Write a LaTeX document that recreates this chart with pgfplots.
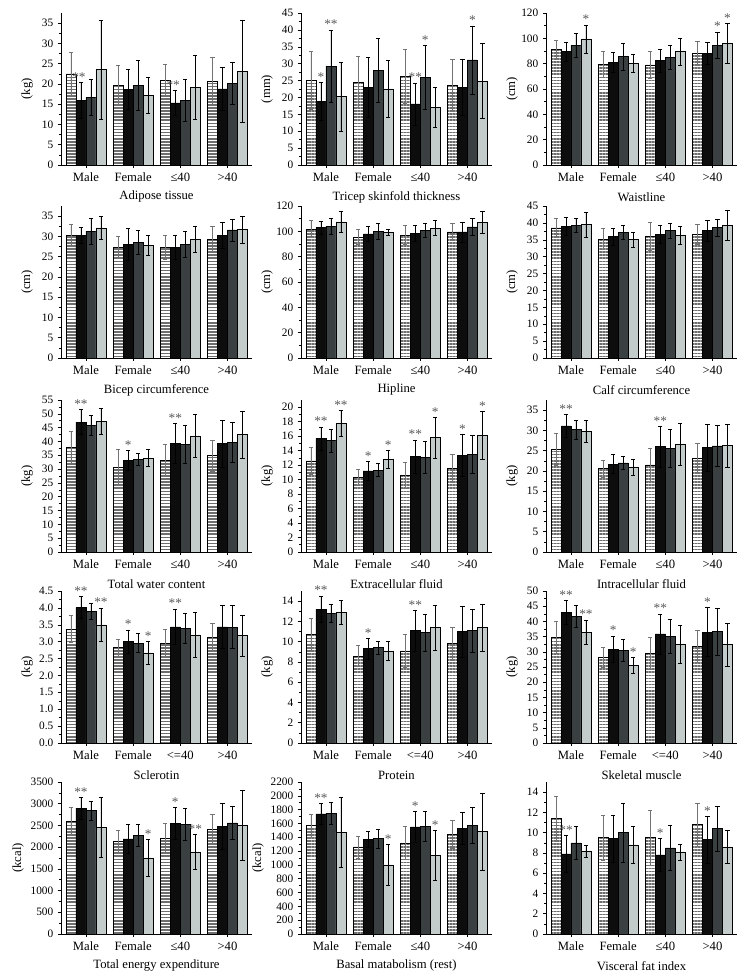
\documentclass[border=0pt]{standalone}
\usepackage{fontspec}
\setmainfont{Liberation Serif}
\usepackage{pgfplots}
\usepackage{pgfplotstable}
\pgfplotsset{compat=1.18}
\usetikzlibrary{patterns.meta}
\newlength\px \setlength\px{0.75pt}
\definecolor{cB}{HTML}{0D0D0D}
\definecolor{cD}{HTML}{3A3F41}
\definecolor{cL}{HTML}{C4CBCB}
\definecolor{cS}{HTML}{6E6E6E}

\pgfplotsset{
  panel/.style={
    scale only axis, width=191\px, height=152\px, anchor=south west,
    axis x line*=bottom, axis y line*=left,
    xmin=-0.53, xmax=3.52, ymin=0,
    xtick={0,1,2,3}, xticklabels={Male,Female,≤40,>40},
    tick align=outside, minor y tick num=1,
    major tick length=3\px, minor tick length=2\px,
    tick style={black, line width=0.4pt},
    axis line style={line width=0.5pt},
    clip=false,
    /pgf/number format/assume math mode=true,
    /pgf/number format/1000 sep={},
    y tick label style={font=\fontsize{8.5}{10}\selectfont},
    x tick label style={font=\fontsize{9.5}{11}\selectfont},
    label style={font=\fontsize{9.5}{11}\selectfont},
    xlabel style={at={(axis description cs:0.5,-0.21)}, anchor=center},
    ylabel style={at={(axis description cs:-0.178,0.5)}, anchor=center},
  },
  EB/.style={error bars/y dir=both, error bars/y explicit,
    error bars/error bar style={line width=0.4pt, #1},
    error bars/error mark options={rotate=90, mark size=1.6pt, line width=0.4pt, #1}},
  EB/.default=black,
  bS/.style={ybar, bar width=0.212, bar shift=0, draw=black, line width=0.4pt,
    pattern={Lines[angle=0, distance=2.3pt, line width=1.25pt]}, pattern color=cS, EB=black!55},
  bB/.style={ybar, bar width=0.212, bar shift=0, draw=black, line width=0.4pt, fill=cB, EB},
  bD/.style={ybar, bar width=0.212, bar shift=0, draw=black, line width=0.4pt, fill=cD, EB},
  bL/.style={ybar, bar width=0.212, bar shift=0, draw=black, line width=0.4pt, fill=cL, EB},
  ST/.style={draw=none, mark=none, nodes near coords,
    point meta=explicit symbolic,
    every node near coord/.style={text=black!65, anchor=south, inner sep=0.6pt,
      font=\fontsize{10}{11}\selectfont}},
}
\newcommand\bars[1]{%
  \addplot[bS] table[x expr=\thisrow{x}-0.318,y=S,y error=Se]{#1};
  \addplot[bB] table[x expr=\thisrow{x}-0.106,y=B,y error=Be]{#1};
  \addplot[bD] table[x expr=\thisrow{x}+0.106,y=D,y error=De]{#1};
  \addplot[bL] table[x expr=\thisrow{x}+0.318,y=L,y error=Le]{#1};
}
% stars: #1 = bar offset within group, #2 = rows "group top-of-error-bar stars"
\newcommand\stars[2]{%
  \addplot[ST] table[x expr=\thisrow{x}+#1, y=y, meta=s, row sep=\\]{x y s\\ #2};
}

\pgfplotstableread{
x S Se B Be D De L Le
0 22.5 5.2 16.0 4.4 16.7 4.5 23.5 12.3
1 19.7 4.8 18.7 4.9 19.7 6.1 17.2 4.4
2 21.0 3.9 15.3 3.1 16.0 5.2 19.2 7.9
3 20.7 6.0 18.8 5.2 20.2 5.2 23.1 12.6
}\tabA
\pgfplotstableread{
x S Se B Be D De L Le
0 25.0 8.6 18.8 5.7 29.3 10.7 20.2 10.3
1 24.6 7.5 23.0 8.9 28.0 9.4 22.5 8.5
2 26.3 8.1 18.1 6.2 26.0 9.4 17.1 5.9
3 23.6 7.6 23.0 8.4 31.1 10.1 24.8 11.1
}\tabB
\pgfplotstableread{
x S Se B Be D De L Le
0 91 7.5 89.5 7.5 94.5 9.5 99.5 11
1 79.5 10 81 8 85.5 10.5 80.5 7
2 79 10.5 82.5 9 85 9.5 89.5 10.5
3 88 9.5 88 8.5 94.5 10.5 96 15.5
}\tabC
\pgfplotstableread{
x S Se B Be D De L Le
0 30.3 2.7 30.3 2.0 31.3 3.2 32.1 2.8
1 27.3 2.8 28.0 4.0 28.5 3.0 27.8 2.5
2 27.3 2.9 27.3 3.0 28.0 3.2 29.3 3.3
3 29.4 3.0 30.2 3.2 31.6 2.7 31.7 3.3
}\tabD
\pgfplotstableread{
x S Se B Be D De L Le
0 102 7 103 5 104 6.5 107.5 8
1 95.5 6 98 6 100 6.5 99 2.5
2 97 7.5 98.5 6 100.5 5.5 102.5 6
3 99.5 6.5 99.5 8 103.5 6.5 107 8.5
}\tabE
\pgfplotstableread{
x S Se B Be D De L Le
0 38.5 2.8 39.0 2.6 39.2 2.1 39.5 3.7
1 35.2 3.1 35.9 2.4 37.2 2.1 35.1 2.2
2 36.0 4.2 36.6 2.7 37.7 2.3 36.3 2.7
3 36.6 3.0 37.7 3.0 38.6 2.5 39.3 4.4
}\tabF
\pgfplotstableread{
x S Se B Be D De L Le
0 38.0 5.8 47.0 4.5 45.8 3.5 47.3 4.6
1 30.7 6.5 33.1 3.6 33.5 2.2 34.0 3.0
2 33.2 5.7 39.3 7.2 39.0 6.8 42.0 7.7
3 34.9 5.7 39.3 8.5 39.7 7.1 42.5 8.6
}\tabG
\pgfplotstableread{
x S Se B Be D De L Le
0 12.6 1.9 15.7 1.6 15.4 1.6 17.8 1.8
1 10.3 1.1 11.2 1.3 11.3 0.9 12.8 1.2
2 10.6 1.8 13.2 2.3 13.1 2.2 15.8 2.8
3 11.6 1.9 13.3 2.9 13.5 2.6 16.1 3.3
}\tabH
\pgfplotstableread{
x S Se B Be D De L Le
0 25.3 4.0 31.1 2.8 30.2 2.4 29.8 2.8
1 20.6 2.1 21.7 2.3 22.0 1.5 21.0 2.0
2 21.5 4.0 26.0 5.0 25.6 4.6 26.6 5.2
3 23.1 3.8 25.8 5.8 26.2 5.0 26.3 5.3
}\tabI
\pgfplotstableread{
x S Se B Be D De L Le
0 3.37 0.40 4.01 0.33 3.90 0.25 3.50 0.50
1 2.83 0.25 3.00 0.35 2.96 0.28 2.67 0.34
2 2.95 0.41 3.44 0.53 3.40 0.45 3.20 0.66
3 3.13 0.41 3.44 0.63 3.43 0.64 3.18 0.60
}\tabJ
\pgfplotstableread{
x S Se B Be D De L Le
0 10.7 1.6 13.2 1.3 12.8 0.9 12.9 1.2
1 8.6 1.0 9.3 1.0 9.4 0.6 9.1 0.9
2 9.1 1.6 11.1 2.0 10.9 1.8 11.4 2.2
3 9.8 1.6 11.0 2.5 11.1 2.1 11.4 2.3
}\tabK
\pgfplotstableread{
x S Se B Be D De L Le
0 34.8 5.2 43.0 4.0 41.7 3.5 36.5 4.0
1 28.2 3.2 30.9 4.3 30.5 3.6 25.6 2.6
2 29.5 5.2 35.9 6.6 35.1 5.6 32.4 6.2
3 31.9 5.2 36.5 8.1 36.6 7.6 32.4 7.0
}\tabL
\pgfplotstableread{
x S Se B Be D De L Le
0 2590 320 2900 250 2840 210 2460 690
1 2140 260 2190 340 2270 250 1750 420
2 2200 340 2540 370 2520 370 1890 410
3 2410 340 2480 520 2560 370 2500 800
}\tabM
\pgfplotstableread{
x S Se B Be D De L Le
0 1570 170 1740 150 1750 160 1470 510
1 1260 160 1370 110 1380 140 1000 300
2 1320 240 1550 220 1560 220 1140 360
3 1440 200 1530 230 1570 260 1480 560
}\tabN
\pgfplotstableread{
x S Se B Be D De L Le
0 11.4 2.2 7.9 1.8 9.0 1.6 8.2 0.6
1 9.5 2.2 9.4 2.3 10.0 2.9 8.8 1.8
2 9.5 2.7 7.8 1.6 8.5 2.2 8.1 0.8
3 10.8 2.1 9.3 2.3 10.4 2.2 8.6 1.6
}\tabO

\begin{document}
\begin{tikzpicture}
\useasboundingbox (0,0) rectangle (746\px,979\px);

% Row 1
\begin{axis}[panel, at={(61\px,814\px)}, ymax=37.5, ytick={0,5,...,35}, ylabel={(kg)}, xlabel={Adipose tissue}]
\bars\tabA
\stars{-0.15}{0 20.4 **\\ 2 18.4 **\\}
\end{axis}
\begin{axis}[panel, at={(301\px,814\px)}, ymax=45, ytick={0,5,...,45}, ylabel={(mm)}, xlabel={Tricep skinfold thickness}]
\bars\tabB
\stars{-0.106}{0 24.5 *\\ 2 24.3 **\\}
\stars{0.106}{0 40 **\\ 2 35.4 *\\ 3 41.2 *\\}
\end{axis}
\begin{axis}[panel, at={(546\px,814\px)}, ymax=120, ytick={0,20,...,120}, ylabel={(cm)}, xlabel={Waistline}]
\bars\tabC
\stars{0.106}{3 105 *\\}
\stars{0.318}{0 110.5 *\\ 3 111.5 *\\}
\end{axis}

% Row 2
\begin{axis}[panel, at={(61\px,621\px)}, ymax=37.5, ytick={0,5,...,35}, ylabel={(cm)}, xlabel={Bicep circumference}]
\bars\tabD
\end{axis}
\begin{axis}[panel, at={(301\px,621\px)}, ymax=120, ytick={0,20,...,120}, ylabel={(cm)}, xlabel={Hipline}]
\bars\tabE
\end{axis}
\begin{axis}[panel, at={(546\px,621\px)}, ymax=45, ytick={0,5,...,45}, ylabel={(cm)}, xlabel={Calf circumference}]
\bars\tabF
\end{axis}

% Row 3
\begin{axis}[panel, at={(61\px,427\px)}, ymax=55, ytick={0,5,...,55}, ylabel={(kg)}, xlabel={Total water content}]
\bars\tabG
\stars{-0.106}{0 51.5 **\\ 1 36.7 *\\ 2 46.5 **\\}
\end{axis}
\begin{axis}[panel, at={(301\px,427\px)}, ymax=21, ytick={0,2,...,20}, ylabel={(kg)}, xlabel={Extracellular fluid}]
\bars\tabH
\stars{-0.106}{0 17.3 **\\ 1 12.5 *\\ 2 15.5 **\\ 3 16.2 *\\}
\stars{0.318}{0 19.6 **\\ 1 14.0 *\\ 2 18.6 *\\ 3 19.4 *\\}
\end{axis}
\begin{axis}[panel, at={(546\px,427\px)}, ymax=37.5, ytick={0,5,...,35}, ylabel={(kg)}, xlabel={Intracellular fluid}]
\bars\tabI
\stars{-0.106}{0 33.9 **\\ 2 31.0 **\\}
\end{axis}

% Row 4
\begin{axis}[panel, at={(61\px,236\px)}, ymax=4.5, ytick={0,0.5,...,4.5},
  yticklabel style={/pgf/number format/.cd, fixed, fixed zerofill, precision=1},
  xticklabels={Male,Female,<=40,>40}, ylabel={(kg)}, xlabel={Sclerotin}]
\bars\tabJ
\stars{-0.106}{0 4.34 **\\ 1 3.35 *\\ 2 3.97 **\\}
\stars{0.318}{0 4.0 **\\ 1 3.01 *\\}
\end{axis}
\begin{axis}[panel, at={(301\px,236\px)}, ymax=15, ytick={0,2,...,14},
  xticklabels={Male,Female,<=40,>40}, ylabel={(kg)}, xlabel={Protein}]
\bars\tabK
\stars{-0.106}{0 14.5 **\\ 1 10.3 *\\ 2 13.1 **\\}
\end{axis}
\begin{axis}[panel, at={(546\px,236\px)}, ymax=50, ytick={0,5,...,50},
  xticklabels={Male,Female,<=40,>40}, ylabel={(kg)}, xlabel={Skeletal muscle}]
\bars\tabL
\stars{-0.106}{0 47.0 **\\ 1 35.2 *\\ 2 42.5 **\\ 3 44.6 *\\}
\stars{0.318}{0 40.5 **\\ 1 28.2 *\\}
\end{axis}

% Row 5
\begin{axis}[panel, at={(61\px,45\px)}, ymax=3500, ytick={0,500,...,3500}, ylabel={(kcal)},
  ylabel style={at={(axis description cs:-0.225,0.5)}}, xlabel={Total energy expenditure}]
\bars\tabM
\stars{-0.106}{0 3150 **\\ 2 2910 *\\}
\stars{0.318}{1 2170 *\\ 2 2300 **\\}
\end{axis}
\begin{axis}[panel, at={(301\px,45\px)}, ymax=2200, ytick={0,200,...,2200}, ylabel={(kcal)},
  ylabel style={at={(axis description cs:-0.225,0.5)}}, xlabel={Basal matabolism (rest)}]
\bars\tabN
\stars{-0.106}{0 1890 **\\ 2 1770 *\\}
\stars{0.318}{1 1300 *\\ 2 1500 *\\}
\end{axis}
\begin{axis}[panel, at={(546\px,45\px)}, ymax=15, ytick={0,2,...,14}, xlabel={Visceral fat index}]
\bars\tabO
\stars{-0.106}{0 9.7 **\\ 2 9.4 *\\ 3 11.6 *\\}
\end{axis}
\end{tikzpicture}
\end{document}
